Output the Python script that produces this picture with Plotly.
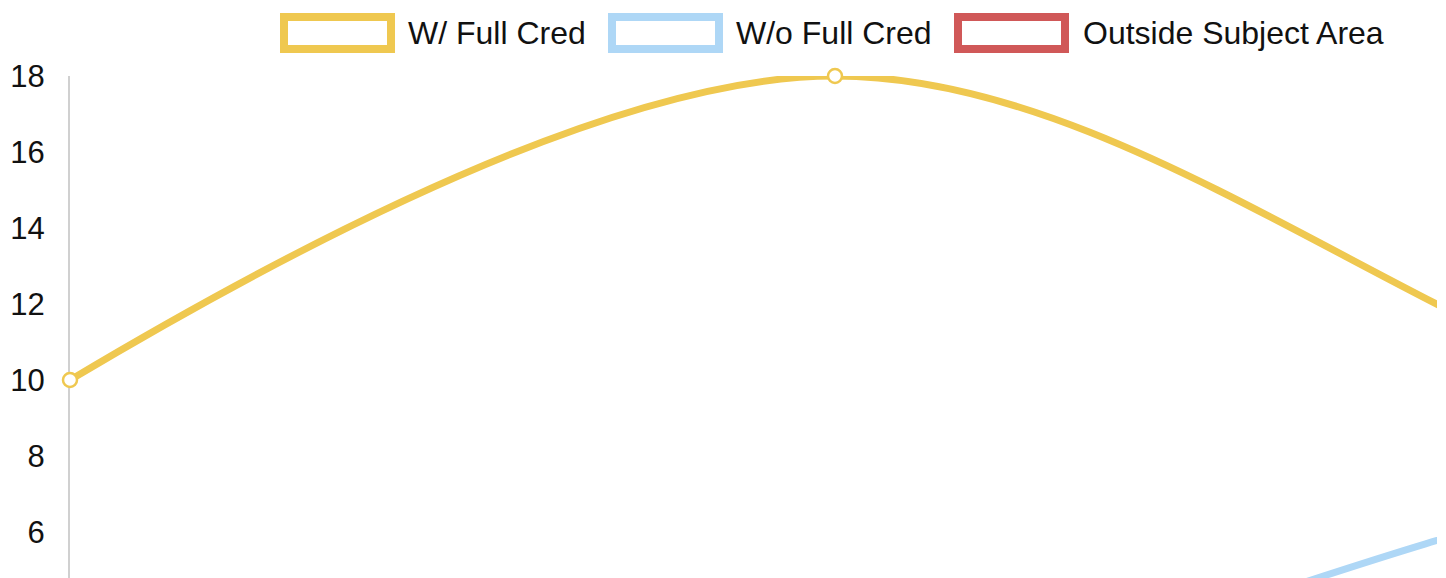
import plotly.graph_objects as go

# ---- data ----
categories = ["P1", "P2", "P3", "P4"]
series_names = ["W/ Full Cred", "W/o Full Cred", "Outside Subject Area"]
w_full_cred = [10, 18, 10, 2]
wo_full_cred = [0, 1.2, 6.9, 10]
outside_area = [0.5, 1.5, 2, 1]
y_ticks = [6, 8, 10, 12, 14, 16, 18]

colors = ["#EFC850", "#AED7F6", "#D05858"]

OFF = 8  # default page body margin
W, H = 1446 - OFF, 578 - OFF
L, R, T, B = 70 - OFF, 1437 - OFF, 76 - OFF, 578 - OFF  # plot area in figure pixels


def px(x):
    # x given in page (reference) pixels
    return (x - OFF - L) / (R - L)


def py(y):
    return (B - (y - OFF)) / (B - T)


fig = go.Figure()
x_idx = list(range(len(categories)))
for name, vals, col in zip(series_names, [w_full_cred, wo_full_cred, outside_area], colors):
    fig.add_trace(go.Scatter(
        x=x_idx, y=vals, name=name, mode="lines+markers",
        line=dict(color=col, width=7, shape="spline", smoothing=1),
        marker=dict(size=14, color="white", line=dict(color=col, width=2.5)),
        cliponaxis=False, showlegend=False,
    ))

# legend drawn as boxes + text
box_x = [(280, 395, 407), (608, 723, 735), (954, 1069, 1082)]
bw = 8
for (x0, x1, tx), name, col in zip(box_x, series_names, colors):
    fig.add_shape(type="rect", xref="paper", yref="paper",
                  x0=px(x0 + bw / 2), x1=px(x1 - bw / 2),
                  y0=py(13 + bw / 2), y1=py(53 - bw / 2),
                  line=dict(color=col, width=bw), fillcolor="white")
    fig.add_annotation(x=px(tx), y=py(33), xref="paper", yref="paper",
                       text=name, showarrow=False, xanchor="left", yanchor="middle",
                       font=dict(family="Liberation Sans, Arial, Helvetica", size=32, color="#111"),
                       borderpad=0)

x_per_cat = 765
fig.update_layout(
    width=W, height=H,
    margin=dict(l=L, r=W - R, t=T, b=H - B, autoexpand=False),
    paper_bgcolor="white", plot_bgcolor="white",
    xaxis=dict(range=[0, (R - L) / x_per_cat], visible=False, showgrid=False, zeroline=False),
    yaxis=dict(range=[18 - (B - T) / 38, 18], tickvals=y_ticks, ticktext=[str(v) for v in y_ticks],
               showgrid=False, zeroline=False, showline=True, linecolor="#d0d0d0", linewidth=2,
               ticks="", ticklabelstandoff=17, layer="below traces",
               tickfont=dict(family="Liberation Sans, Arial, Helvetica", size=31, color="#111")),
)

fig.write_html("out.html")
